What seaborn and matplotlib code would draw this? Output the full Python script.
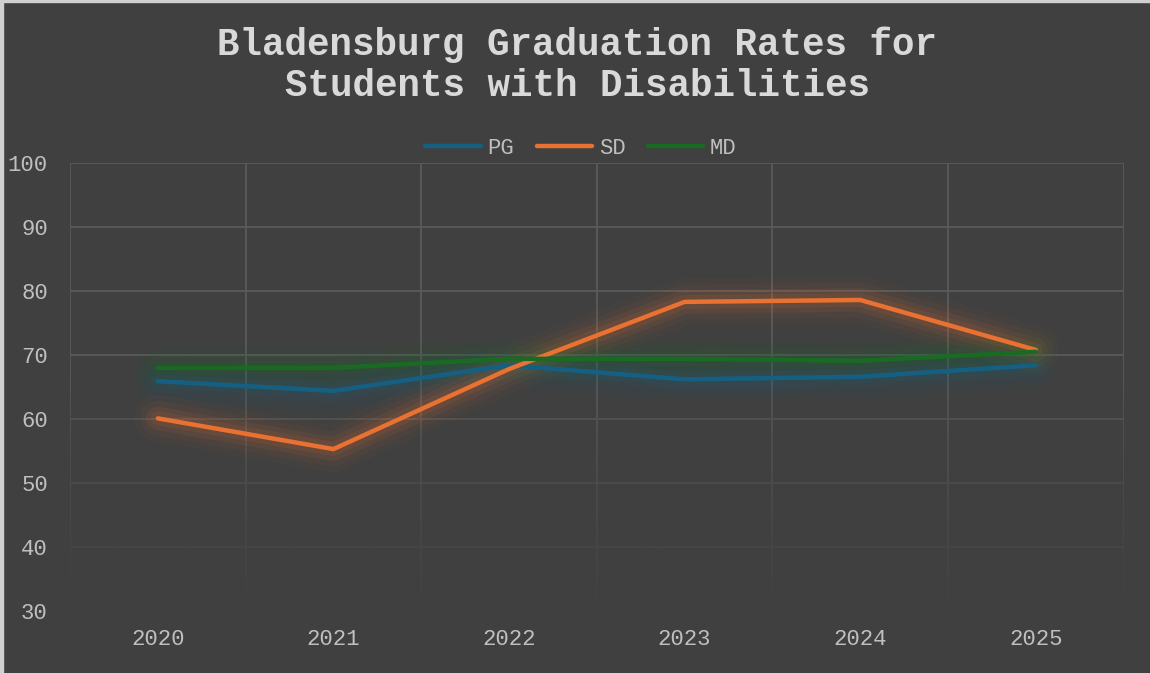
import numpy as np
import pandas as pd
import matplotlib
matplotlib.use('Agg')
import matplotlib.pyplot as plt
import seaborn as sns
from matplotlib.patches import Rectangle

# data
years = ['2020', '2021', '2022', '2023', '2024', '2025']
pg = [65.9, 64.4, 68.4, 66.2, 66.6, 68.4]
sd = [60.1, 55.3, 67.8, 78.3, 78.6, 70.8]
md = [68.0, 68.0, 69.4, 69.4, 69.1, 70.5]
series_names = ['PG', 'SD', 'MD']
colors = ['#156082', '#E97132', '#196B24']

BG = '#404040'
TXT = '#bfbfbf'

df = pd.DataFrame({'Year': years, 'PG': pg, 'SD': sd, 'MD': md})
long = df.melt(id_vars='Year', var_name='Series', value_name='Rate')

sns.set_theme(style='dark')
plt.rcParams['font.family'] = ['Liberation Mono', 'DejaVu Sans Mono']

fig = plt.figure(figsize=(11.5, 6.73), dpi=100, facecolor=BG)
ax = fig.add_axes([0.0609, 0.0921, 0.9161, 0.6657])
ax.set_facecolor(BG)

# soft glow behind each line
for name, col in zip(series_names, colors):
    sub = long[long['Series'] == name]
    for lw, a in [(34, 0.035), (25, 0.05), (17, 0.08), (10, 0.11)]:
        sns.lineplot(data=sub, x='Year', y='Rate', color=col, linewidth=lw,
                     alpha=a, ax=ax, legend=False, zorder=2,
                     solid_capstyle='round')

sns.lineplot(data=long, x='Year', y='Rate', hue='Series', hue_order=series_names,
             palette=colors, linewidth=3.2, ax=ax, zorder=4,
             solid_capstyle='round')

ax.set_xticks(range(len(years)))
ax.set_xticklabels(years)
ax.set_yticks(range(30, 101, 10))
ax.set_xlabel('')
ax.set_ylabel('')

# gridlines (vertical ones between categories, Excel style)
for v in range(30, 101, 10):
    ax.axhline(v, color='#5a5a5a', linewidth=1.3, zorder=1)
for xb in np.arange(-0.5, len(years), 1.0):
    ax.axvline(xb, color='#5a5a5a', linewidth=1.3, zorder=1)
ax.grid(False)

# fade the lower part of the plot area
ramp = np.zeros((200, 2, 4))
ramp[..., :3] = matplotlib.colors.to_rgb(BG)
ramp[..., 3] = (np.linspace(1.0, 0.0, 200) ** 0.7)[:, None]
ax.imshow(ramp, extent=(-0.5, len(years) - 0.5, 29, 66), origin='lower',
          aspect='auto', zorder=1.5, interpolation='bilinear')
ax.set_xlim(-0.5, len(years) - 0.5)
ax.set_ylim(30, 100)

for s in ax.spines.values():
    s.set_visible(False)
ax.tick_params(axis='both', length=0, colors=TXT, labelsize=16)
ax.tick_params(axis='x', pad=13)
ax.tick_params(axis='y', pad=16)

leg = ax.legend(loc='center', bbox_to_anchor=(0.485, 1.033), ncol=3, frameon=False,
                fontsize=16, handlelength=2.5, handletextpad=0.3,
                columnspacing=1.0, borderaxespad=0)
for t in leg.get_texts():
    t.set_color(TXT)
for h in leg.get_lines():
    h.set_linewidth(3.2)

fig.text(0.502, 0.903, 'Bladensburg Graduation Rates for\nStudents with Disabilities',
         ha='center', va='center', fontsize=27, fontweight='bold',
         color='#d9d9d9', linespacing=1.2)

# light frame on the left and top edges
fig.patches.append(Rectangle((0, 0), 0.0022, 1, transform=fig.transFigure,
                             color='#d0d0d0', zorder=10))
fig.patches.append(Rectangle((0, 0.9965), 1, 0.0035, transform=fig.transFigure,
                             color='#d0d0d0', zorder=10))

fig.savefig('out.png', dpi=100, facecolor=BG)
